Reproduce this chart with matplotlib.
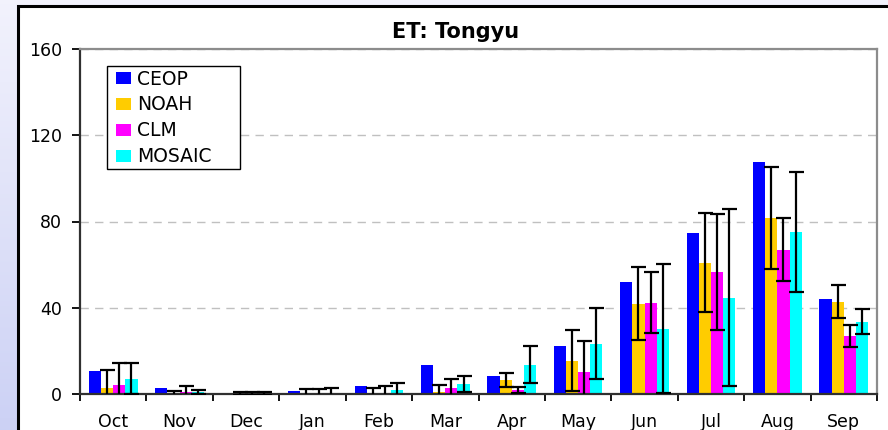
import numpy as np
import matplotlib
matplotlib.use("Agg")
import matplotlib.pyplot as plt
from matplotlib.patches import Rectangle, Patch

plt.rcParams["font.family"] = ["DejaVu Sans"]

# ET at Tongyu, monthly, water year Oct..Sep
months = ["Oct", "Nov", "Dec", "Jan", "Feb", "Mar",
          "Apr", "May", "Jun", "Jul", "Aug", "Sep"]

ceop = [10.8, 2.8, 0.3, 1.5, 3.9, 13.6, 8.5, 22.4, 52.1, 74.8, 107.8, 44.2]

noah     = [2.8, 0.3, 0.2, 0.2, 0.3, 1.0, 6.6, 15.5, 41.9, 60.9, 81.8, 42.8]
noah_err = [8.3, 1.2, 0.6, 1.9, 2.5, 3.0, 3.3, 14.0, 17.0, 23.0, 23.6, 7.6]

clm     = [4.3, 1.0, 0.2, 0.2, 0.3, 2.9, 1.8, 10.3, 42.4, 56.7, 67.0, 26.9]
clm_err = [10.1, 2.8, 0.6, 2.2, 3.2, 3.9, 1.5, 14.1, 14.0, 26.8, 14.7, 5.3]

mosaic     = [7.0, 1.0, 0.2, 0.3, 1.9, 4.5, 13.6, 23.3, 30.3, 44.7, 75.3, 33.5]
mosaic_err = [7.2, 1.0, 0.7, 2.6, 3.0, 3.8, 8.6, 16.4, 30.0, 41.0, 27.8, 5.7]

series = [
    ("CEOP",   ceop,   None,       "#0000FF"),
    ("NOAH",   noah,   noah_err,   "#FFCC00"),
    ("CLM",    clm,    clm_err,    "#FF00FF"),
    ("MOSAIC", mosaic, mosaic_err, "#00FFFF"),
]

W, H = 888, 430
fig = plt.figure(figsize=(W / 100, H / 100), dpi=100)

# background: pale lavender gradient, white chart box with black frame
bg = fig.add_axes([0, 0, 1, 1], zorder=-10)
grad = np.linspace(0, 1, 256).reshape(-1, 1)
top_c = np.array([0.95, 0.95, 0.99])
bot_c = np.array([0.80, 0.82, 0.96])
img = top_c + (bot_c - top_c) * grad[:, :, None]
bg.imshow(img, aspect="auto", extent=[0, 1, 0, 1], origin="upper")
bg.add_patch(Rectangle((18 / W, -0.1), 1, 1.1 - 6 / H, facecolor="white",
                       edgecolor="black", linewidth=2.2))
bg.set_xlim(0, 1); bg.set_ylim(0, 1)
bg.axis("off")

ax = fig.add_axes([80 / W, 36 / H, 797 / W, 345 / H])
x = np.arange(len(months))
bw = 0.183
offsets = (np.arange(4) - 1.5) * bw

for (name, vals, errs, col), off in zip(series, offsets):
    ax.bar(x + off, vals, bw, color=col, label=name, zorder=2)
    if errs is not None:
        ax.errorbar(x + off, vals, yerr=errs, fmt="none", ecolor="black",
                    elinewidth=1.6, capsize=5.4, capthick=1.6, zorder=3)

ax.set_xlim(-0.5, len(months) - 0.5)
ax.set_ylim(0, 160)
ax.set_yticks(np.arange(0, 161, 40))
ax.set_xticks(x)
ax.set_xticklabels(months)
ax.set_xticks(np.arange(-0.5, len(months), 1), minor=True)
ax.tick_params(axis="x", which="major", length=0, pad=14, labelsize=12.5)
ax.tick_params(axis="x", which="minor", length=5, width=1.3, direction="out")
ax.tick_params(axis="y", length=6, width=1.3, pad=7, labelsize=12.5)

ax.yaxis.grid(True, color="#c0c0c0", linewidth=1.0, dashes=(6, 4.5), zorder=0)
ax.set_axisbelow(True)

for s in ("left", "bottom"):
    ax.spines[s].set_color("#303030")
    ax.spines[s].set_linewidth(1.6)
for s in ("top", "right"):
    ax.spines[s].set_color("#8c8c8c")
    ax.spines[s].set_linewidth(1.6)

# legend frame drawn by hand, Excel's box is wider than the text
ax.add_patch(Rectangle((107 / W, 1 - 169 / H), 133 / W, 103 / H,
                       transform=fig.transFigure, clip_on=False,
                       facecolor="white", edgecolor="black", linewidth=1.0,
                       zorder=5))

handles = [Patch(facecolor=c, label=n) for n, _, _, c in series]
leg = ax.legend(handles=handles, loc="upper left",
                bbox_to_anchor=(112.5 / W, 1 - 66 / H), bbox_transform=fig.transFigure,
                fontsize=13.5, frameon=False, handlelength=0.8, handleheight=0.59,
                handletextpad=0.33, labelspacing=0.37, borderpad=0.19,
                borderaxespad=0)
leg.set_zorder(6)

fig.text(455.5 / W, 1 - 32 / H, "ET: Tongyu", ha="center", va="center",
         fontsize=15, fontweight="bold")

fig.savefig("out.png", dpi=100)
